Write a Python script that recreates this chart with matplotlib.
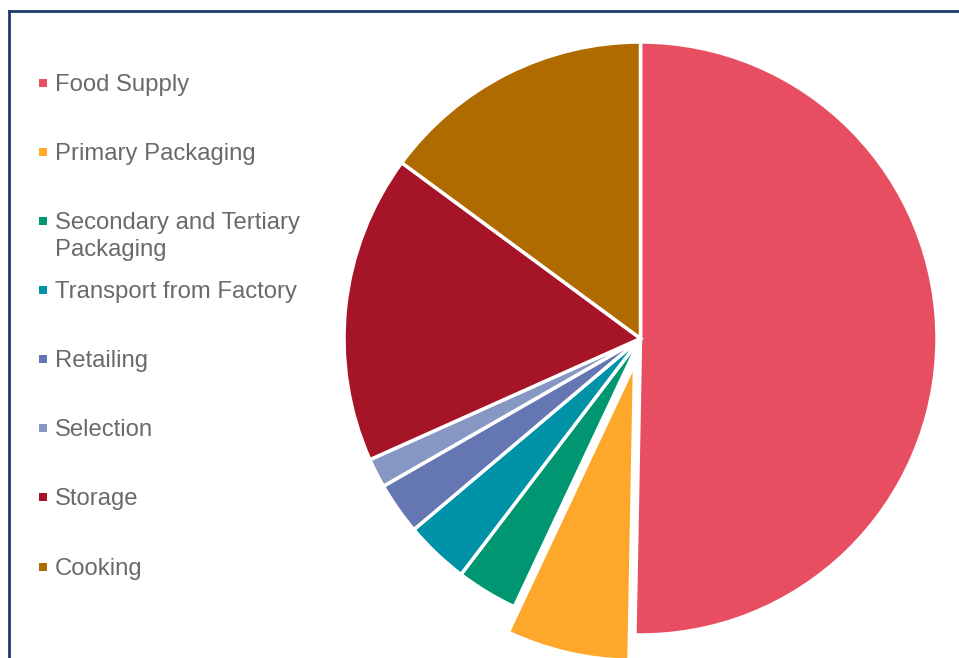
import matplotlib
matplotlib.use("Agg")
import matplotlib.pyplot as plt
from matplotlib.patches import Rectangle
from matplotlib.lines import Line2D

labels = ["Food Supply", "Primary Packaging", "Secondary and Tertiary\nPackaging",
          "Transport from Factory", "Retailing", "Selection", "Storage", "Cooking"]
values = [50.3, 6.7, 3.35, 3.5, 2.85, 1.6, 16.8, 14.9]
colors = ["#E84E61", "#FDA82A", "#009672", "#0093A8", "#6577B2", "#8797C4", "#A51427", "#B06B00"]
explode_frac = [0, 0.088, 0, 0, 0, 0, 0, 0]

W, H = 959, 658
fig = plt.figure(figsize=(W / 100, H / 100), dpi=100)
ax = fig.add_axes([0, 0, 1, 1])

cx, cy, r = 640.5, H - 338.5, 296.5
ax.pie(values, colors=colors, explode=[e * r for e in explode_frac], startangle=90,
       counterclock=False, center=(cx, cy), radius=r, frame=False,
       wedgeprops=dict(edgecolor="white", linewidth=2.5))
ax.set_xlim(0, W)
ax.set_ylim(0, H)
ax.set_aspect("equal")
ax.axis("off")

# border
navy = "#1F3A6E"
ax.add_line(Line2D([9, 9], [0, H - 11], color=navy, lw=2.0))
ax.add_line(Line2D([9, W], [H - 11, H - 11], color=navy, lw=2.0))

# legend
y_pos = [83, 152, 221, 290, 359, 428, 497, 567]
for lab, col, yy in zip(labels, colors, y_pos):
    ax.add_patch(Rectangle((39, H - yy - 4), 8, 8, facecolor=col, edgecolor="none"))
    for i, line in enumerate(lab.split("\n")):
        ax.text(55, H - (yy + 8 + 27 * i), line, fontsize=17.2, color="#6A6A6A",
                ha="left", va="baseline", family=["Liberation Sans", "DejaVu Sans"])

fig.savefig("out.png", dpi=100)
